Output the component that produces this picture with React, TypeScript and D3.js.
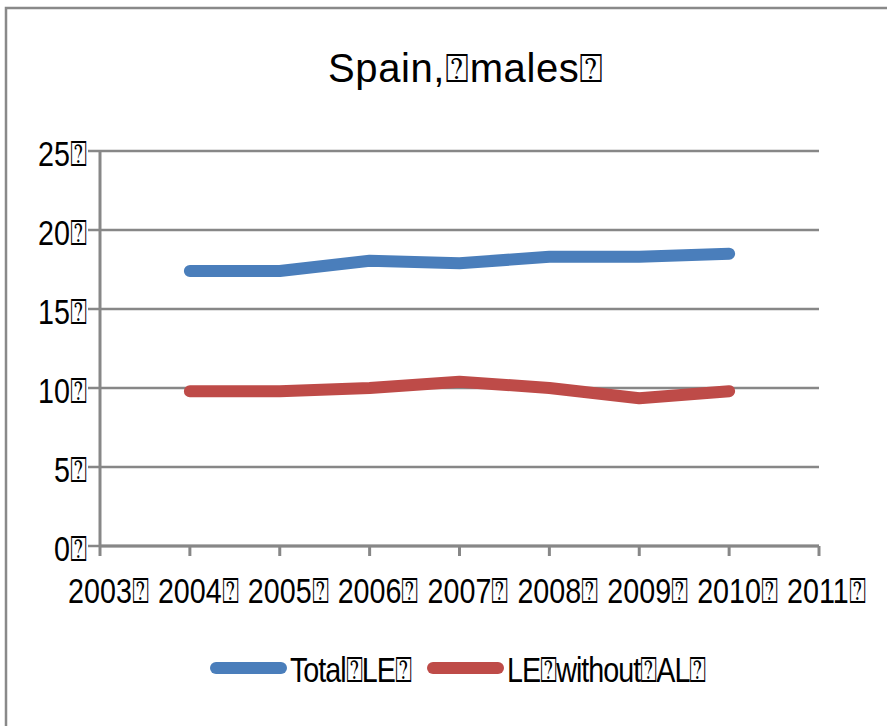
import React from "react";
import * as d3 from "d3";

const years = [2004, 2005, 2006, 2007, 2008, 2009, 2010];
const totalLE = [17.4, 17.4, 18.05, 17.9, 18.3, 18.3, 18.5];
const leWithoutAL = [9.8, 9.8, 10.0, 10.4, 10.0, 9.35, 9.8];
const xTicks = [2003, 2004, 2005, 2006, 2007, 2008, 2009, 2010, 2011];
const yTicks = [0, 5, 10, 15, 20, 25];
const BOX = "\u2370";
const title = `Spain,${BOX}males${BOX}`;
const seriesNames = [`Total${BOX}LE${BOX}`, `LE${BOX}without${BOX}AL${BOX}`];
const colors = ["#4A7EBB", "#BE4B48"];

const SX = 0.82;

function NarrowText(props: { x: number; y: number; anchor?: string; spacing?: number; children: string }) {
  return (
    <g transform={`translate(${props.x},${props.y}) scale(${SX},1)`}>
      <text
        x={0}
        y={0}
        textAnchor={props.anchor || "start"}
        fontFamily="'Liberation Sans', Arial, sans-serif"
        fontSize={35}
        letterSpacing={props.spacing || 0}
        fill="#000"
      >
        {props.children}
      </text>
    </g>
  );
}

export default function App() {
  const W = 887, H = 726;
  const x = d3.scaleLinear().domain([2003, 2011]).range([100, 819]);
  const y = d3.scaleLinear().domain([0, 25]).range([546, 151]);
  const line = d3
    .line<number>()
    .x((_, i) => x(years[i]))
    .y((d) => y(d));
  const grid = "#878787";
  const series = [totalLE, leWithoutAL];
  return (
    <svg
      width={W}
      height={H}
      style={{ position: "absolute", left: 0, top: 0, background: "#fff" }}
    >
      <rect x={6} y={8} width={W + 20} height={H + 20} fill="#fff" stroke="#898989" strokeWidth={2.5} />
      <text x={466} y={82} textAnchor="middle" fontFamily="'Liberation Sans', sans-serif" fontSize={40} letterSpacing={0.6} fill="#000">
        {title}
      </text>
      {yTicks.map((t) => (
        <g key={t}>
          <line x1={88} x2={819} y1={y(t)} y2={y(t)} stroke={grid} strokeWidth={2.5} />
          <NarrowText x={87} y={y(t) + 15} anchor="end">
            {`${t}${BOX}`}
          </NarrowText>
        </g>
      ))}
      <line x1={100} x2={100} y1={151} y2={546} stroke={grid} strokeWidth={3} />
      <line x1={100} x2={819} y1={546} y2={546} stroke={grid} strokeWidth={3} />
      {xTicks.map((t) => (
        <g key={t}>
          <line x1={x(t)} x2={x(t)} y1={546} y2={556} stroke={grid} strokeWidth={3} />
          <NarrowText x={x(t) - 32} y={603}>
            {`${t}${BOX}`}
          </NarrowText>
        </g>
      ))}
      {series.map((s, i) => (
        <path
          key={i}
          d={line(s) || ""}
          fill="none"
          stroke={colors[i]}
          strokeWidth={12}
          strokeLinecap="round"
          strokeLinejoin="round"
        />
      ))}
      {seriesNames.map((n, i) => {
        const lx = i === 0 ? 216 : 433;
        return (
          <g key={n}>
            <line x1={lx} x2={lx + 65} y1={668} y2={668} stroke={colors[i]} strokeWidth={12} strokeLinecap="round" />
            <NarrowText x={lx + 74} y={682} spacing={-1.2}>
              {n}
            </NarrowText>
          </g>
        );
      })}
    </svg>
  );
}
